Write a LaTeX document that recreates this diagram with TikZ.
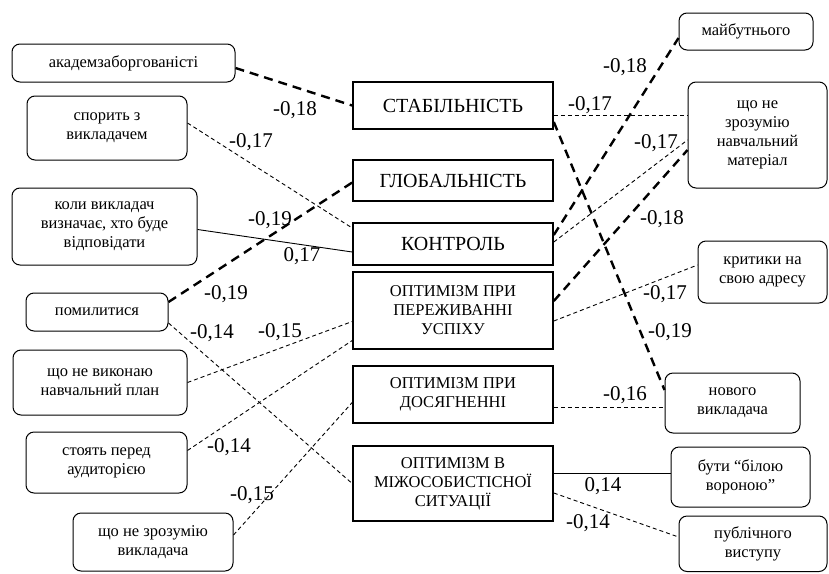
\documentclass[tikz,border=0pt]{standalone}
\usepackage{fontspec}
\setmainfont{Liberation Serif}
\usepackage{tikz}

\begin{document}
\begin{tikzpicture}[x=1pt, y=-1pt,
    factor/.style={draw, rectangle, line width=1.6pt, align=center, inner sep=1pt, minimum width=200pt},
    bigtext/.style={font=\fontsize{20}{23}\selectfont},
    smalltext/.style={font=\fontsize{16.5}{19}\selectfont},
    fear/.style={draw, rectangle, rounded corners=8pt, line width=1pt, align=center, inner sep=1pt, font=\fontsize{16.5}{19}\selectfont},
    thicklink/.style={line width=2.4pt, dash pattern=on 9pt off 6pt},
    thinlink/.style={line width=0.9pt, dash pattern=on 4pt off 3pt},
    solidlink/.style={line width=0.9pt},
    coef/.style={font=\fontsize{21}{22}\selectfont, inner sep=0pt}]
                \useasboundingbox (0,0) rectangle (829,573);
                % attributional style factors
                \node[factor, bigtext, minimum height=47pt] (Stab) at (453,105.5) {СТАБІЛЬНІСТЬ};
                \node[factor, bigtext, minimum height=41pt] (Glob) at (453,180.5) {ГЛОБАЛЬНІСТЬ};
                \node[factor, bigtext, minimum height=42pt] (Kontrol) at (453,244) {КОНТРОЛЬ};
                \node[factor, smalltext, minimum height=77pt] (Perezh) at (453,310.5) {ОПТИМІЗМ ПРИ\\ПЕРЕЖИВАННІ\\УСПІХУ};
                \node[factor, smalltext, minimum height=57pt] (Dosiah) at (453,394.5) {ОПТИМІЗМ ПРИ\\ДОСЯГНЕННІ};
                \node[factor, smalltext, minimum height=75pt] (Mizh) at (453,483.5) {ОПТИМІЗМ В\\МІЖОСОБИСТІСНОЇ\\СИТУАЦІЇ};
                % fears, left side
                \node[fear, minimum width=223pt, minimum height=38pt] (Akadem) at (123.5,63) {академзаборгованісті};
                \node[fear, minimum width=160pt, minimum height=64pt] (Sporyt) at (107,128) {спорить з\\викладачем};
                \node[fear, minimum width=185pt, minimum height=77pt] (Koly) at (104.5,226.5) {коли викладач\\визначає, хто буде\\відповідати};
                \node[fear, minimum width=142pt, minimum height=38pt] (Pomyl) at (97,312) {помилитися};
                \node[fear, minimum width=174pt, minimum height=65pt] (Vykon) at (100,382.5) {що не виконаю\\навчальний план};
                \node[fear, minimum width=161pt, minimum height=61pt] (Stoiat) at (106.5,462.5) {стоять перед\\аудиторією};
                \node[fear, minimum width=160pt, minimum height=58pt] (ZrozVykl) at (153,542) {що не зрозумію\\викладача};
                % fears, right side
                \node[fear, minimum width=134pt, minimum height=37pt] (Maibut) at (746,31.5) {майбутнього};
                \node[fear, minimum width=139pt, minimum height=106pt] (ZrozMat) at (757.5,135) {що не\\зрозумію\\навчальний\\матеріал};
                \node[fear, minimum width=129pt, minimum height=62pt] (Krytyka) at (762.5,272) {критики на\\свою адресу};
                \node[fear, minimum width=135pt, minimum height=60pt] (Novoho) at (732.5,403) {нового\\викладача};
                \node[fear, minimum width=139pt, minimum height=60pt] (Buty) at (740.5,477) {бути “білою\\вороною”};
                \node[fear, minimum width=148pt, minimum height=55.5pt] (Publ) at (753,543.75) {публічного\\виступу};
                % links, left side
                \draw[thicklink] ([yshift=-5pt]Akadem.east) -- (Stab.west);
                \draw[thinlink] ([yshift=5pt]Sporyt.east) -- ([yshift=16pt]Kontrol.west);
                \draw[solidlink] ([yshift=-3pt]Koly.east) -- ([yshift=-8pt]Kontrol.west);
                \draw[thicklink] ([yshift=10pt]Pomyl.east) -- ([yshift=-2pt]Glob.west);
                \draw[thinlink] ([yshift=-11pt]Pomyl.east) -- (Mizh.west);
                \draw[thinlink] (Vykon.east) -- ([yshift=-11pt]Perezh.west);
                \draw[thinlink] ([yshift=12pt]Stoiat.east) -- ([yshift=-30pt]Perezh.west);
                \draw[thinlink] ([yshift=7pt]ZrozVykl.east) -- ([yshift=-8pt]Dosiah.west);
                % links, right side
                \draw[thinlink] ([yshift=-9.5pt]Stab.east) -- ([yshift=20pt]ZrozMat.west);
                \draw[thicklink] ([yshift=-16.5pt]Stab.east) -- ([yshift=13pt]Novoho.west);
                \draw[thicklink] ([yshift=9pt]Kontrol.east) -- ([yshift=-6.5pt]Maibut.west);
                \draw[thinlink] ([yshift=2pt]Kontrol.east) -- ([yshift=-5pt]ZrozMat.west);
                \draw[thicklink] ([yshift=9.5pt]Perezh.east) -- ([yshift=-15pt]ZrozMat.west);
                \draw[thinlink] ([yshift=-10.5pt]Perezh.east) -- ([yshift=7pt]Krytyka.west);
                \draw[thinlink] ([yshift=-12.5pt]Dosiah.east) -- ([yshift=-4pt]Novoho.west);
                \draw[solidlink] ([yshift=10.5pt]Mizh.east) -- ([yshift=4pt]Buty.west);
                \draw[thinlink] ([yshift=-9.5pt]Mizh.east) -- ([yshift=6.75pt]Publ.west);
                % coefficients
                \node[coef] (CAkadem) at (295,110) {-0,18};
                \node[coef] (CSporyt) at (251,142) {-0,17};
                \node[coef] (CGlobA) at (270,220) {-0,19};
                \node[coef] (CKoly) at (302,256) {0,17};
                \node[coef] (CGlobB) at (226,294) {-0,19};
                \node[coef] (CPomyl) at (212,333) {-0,14};
                \node[coef] (CVykon) at (280,332) {-0,15};
                \node[coef] (CStoiat) at (229,447) {-0,14};
                \node[coef] (CZrozVykl) at (252,495) {-0,15};
                \node[coef] (CMaibut) at (625,67) {-0,18};
                \node[coef] (CStabMat) at (590,105) {-0,17};
                \node[coef] (CKontrMat) at (656,143) {-0,17};
                \node[coef] (CPerezhMat) at (662,219) {-0,18};
                \node[coef] (CKrytyka) at (665,294) {-0,17};
                \node[coef] (CNovoho) at (670,332) {-0,19};
                \node[coef] (CDosiah) at (625,395) {-0,16};
                \node[coef] (CButy) at (603,486) {0,14};
                \node[coef] (CPubl) at (588,523) {-0,14};
            \end{tikzpicture}
\end{document}
